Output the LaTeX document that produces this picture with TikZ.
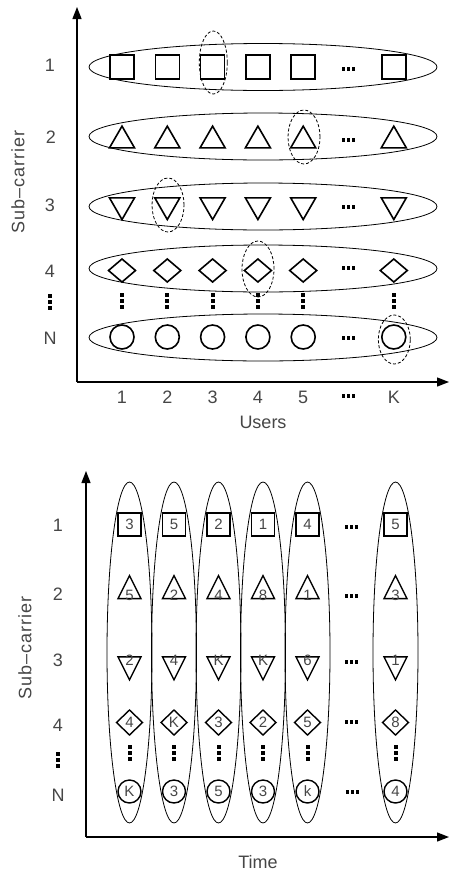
\documentclass[tikz,border=0pt]{standalone}
\usepackage{fontspec}
\setmainfont{Liberation Sans}
\usetikzlibrary{shapes.geometric,arrows.meta}
\definecolor{lbl}{RGB}{70,70,70}
\begin{document}
\begin{tikzpicture}[x=1pt,y=-1pt,
  lab/.style={font=\fontsize{18}{18}\selectfont, text=lbl, inner sep=0},
  ylab/.style={lab, rotate=90, font=\fontsize{18}{18}\selectfont\addfontfeature{LetterSpace=6}},
  num/.style={font=\fontsize{15}{15}\selectfont, text=lbl, inner sep=0},
  axis/.style={line width=1.3pt, -{Triangle[length=12pt,width=9pt]}},
  grp/.style={draw, line width=0.8pt, ellipse, inner sep=0},
  sel/.style={draw, line width=0.8pt, ellipse, inner sep=0, dash pattern=on 3pt off 2pt},
  shp/.style={draw, line width=1.6pt, inner sep=0, outer sep=0},
  sqA/.style={shp, rectangle, minimum size=24pt},
  triupA/.style={shp, regular polygon, regular polygon sides=3, minimum size=28.9pt},
  tridnA/.style={shp, regular polygon, regular polygon sides=3, minimum size=28.9pt, shape border rotate=180},
  diaA/.style={shp, diamond, minimum width=27pt, minimum height=23pt},
  cirA/.style={shp, circle, minimum size=24pt},
  sqB/.style={shp, line width=1.4pt, rectangle, minimum size=23pt},
  triupB/.style={shp, line width=1.4pt, isosceles triangle, isosceles triangle stretches, minimum width=23pt, minimum height=23pt, shape border rotate=90},
  tridnB/.style={shp, line width=1.4pt, isosceles triangle, isosceles triangle stretches, minimum width=23pt, minimum height=23pt, shape border rotate=270},
  diaB/.style={shp, line width=1.4pt, diamond, minimum width=26pt, minimum height=25pt},
  cirB/.style={shp, line width=1.4pt, circle, minimum size=23pt},
  hdots/.pic={\foreach \k in {-5,0,5} \fill (\k-1.5,-1.8) rectangle (\k+1.5,1.8);},
  vdots/.pic={\foreach \k in {-6,0,6} \fill (-2,\k-2) rectangle (2,\k+2);}
]
\useasboundingbox (0,0) rectangle (451,873);

%================ TOP DIAGRAM =================
\coordinate (tO) at (77,382);
\coordinate (tY) at (77,7);
\coordinate (tX) at (449,382);
\draw[axis] (tO) -- (tY);
\draw[axis] (tO) -- (tX);

% group ellipses
\node[grp, minimum width=348pt, minimum height=47pt] (tr1) at (263,67) {};
\node[grp, minimum width=348pt, minimum height=47pt] (tr2) at (263,136.5) {};
\node[grp, minimum width=348pt, minimum height=47pt] (tr3) at (263,206.5) {};
\node[grp, minimum width=348pt, minimum height=47pt] (tr4) at (263,268.5) {};
\node[grp, minimum width=348pt, minimum height=47pt] (trN) at (263,337.5) {};

% shapes
\foreach \x [count=\i] in {122,167.3,212.6,257.9,303.2,393.8} {
  \node[sqA] (tsq\i) at (\x,67) {};
  \node[triupA] (ttu\i) at (\x,140.6) {};
  \node[tridnA] (ttd\i) at (\x,205.1) {};
  \node[diaA] (tdi\i) at (\x,270.5) {};
  \node[cirA] (tci\i) at (\x,337) {};
  \pic (tvd\i) at (\x,301) {vdots};
  \node[lab] (tx\i) at (\x,397) {\ifnum\i=6 K\else\i\fi};
}
\pic (thd1) at (348,69) {hdots};
\pic (thd2) at (348,140) {hdots};
\pic (thd3) at (348,207) {hdots};
\pic (thd4) at (348,268) {hdots};
\pic (thdN) at (348,338) {hdots};
\pic (thdx) at (348,396) {hdots};

% selection ellipses
\node[sel, minimum width=28pt, minimum height=63pt] (ts1) at (213.3,62.5) {};
\node[sel, minimum width=32pt, minimum height=54pt] (ts2) at (304,137) {};
\node[sel, minimum width=32pt, minimum height=54pt] (ts3) at (168,205) {};
\node[sel, minimum width=32pt, minimum height=56pt] (ts4) at (258,269) {};
\node[sel, minimum width=32pt, minimum height=49pt] (tsN) at (394.3,339.5) {};

% labels
\node[lab] (tl1) at (50,65) {1};
\node[lab] (tl2) at (51,137) {2};
\node[lab] (tl3) at (50,205) {3};
\node[lab] (tl4) at (50,271) {4};
\pic (tlv) at (50,302) {vdots};
\node[lab] (tlN) at (50,338) {N};
\node[ylab] (tyl) at (18,182) {Sub–carrier};
\node[lab] (txl) at (263,422) {Users};

%================ BOTTOM DIAGRAM =================
\coordinate (bO) at (86,837);
\coordinate (bY) at (86,471);
\coordinate (bX) at (449,837);
\draw[axis] (bO) -- (bY);
\draw[axis] (bO) -- (bX);

\foreach \x/\a/\b/\c/\d/\e [count=\i] in
  {129.5/3/5/2/4/K, 174/5/2/4/K/3, 218.5/2/4/K/3/5, 263/1/8/K/2/3, 307.5/4/1/6/5/k, 395.5/5/3/1/8/4} {
  \node[grp, minimum width=45pt, minimum height=341pt] (bc\i) at (\x,652.5) {};
  \node[sqB] (bsq\i) at (\x,524.5) {};
  \node[num] (bn1\i) at (\x,524.5) {\a};
  \node[triupB] (btu\i) at (\x,591.5) {};
  \node[num] (bn2\i) at (\x,595) {\b};
  \node[tridnB] (btd\i) at (\x,664) {};
  \node[num] (bn3\i) at (\x,660.5) {\c};
  \node[diaB] (bdi\i) at (\x,722.5) {};
  \node[num] (bn4\i) at (\x,722.5) {\d};
  \node[cirB] (bci\i) at (\x,791.5) {};
  \node[num] (bn5\i) at (\x,791.5) {\e};
  \pic (bvd\i) at (\x,753) {vdots};
}
\pic (bhd1) at (351,527) {hdots};
\pic (bhd2) at (351,596) {hdots};
\pic (bhd3) at (351,662) {hdots};
\pic (bhd4) at (351,722) {hdots};
\pic (bhdN) at (352,792) {hdots};

\node[lab] (bl1) at (58,525) {1};
\node[lab] (bl2) at (58,594) {2};
\node[lab] (bl3) at (58,660) {3};
\node[lab] (bl4) at (58,725) {4};
\pic (blv) at (58,760) {vdots};
\node[lab] (blN) at (58,795) {N};
\node[ylab] (byl) at (25,648) {Sub–carrier};
\node[lab] (bxl) at (258,862) {Time};
\end{tikzpicture}
\end{document}
